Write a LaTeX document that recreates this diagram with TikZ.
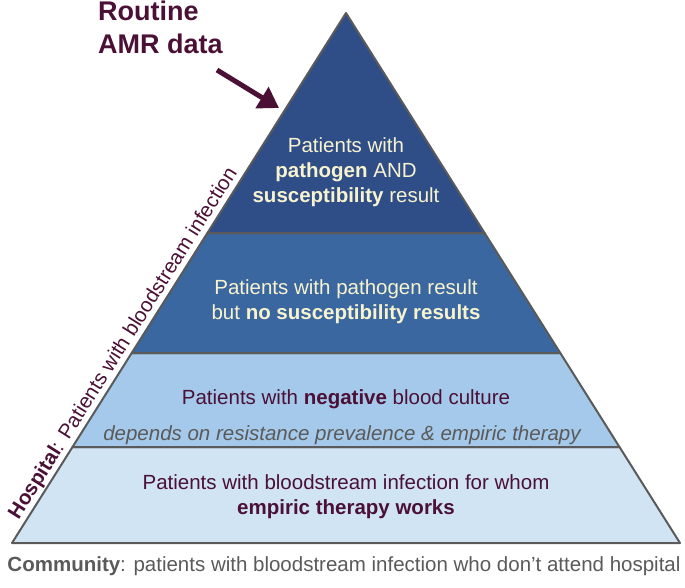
\documentclass[tikz,border=0pt]{standalone}
\usepackage{fontspec}
\setmainfont{Liberation Sans}
\usetikzlibrary{arrows.meta,positioning}

\definecolor{LayerTop}{HTML}{2F4E88}
\definecolor{LayerPath}{HTML}{3A67A0}
\definecolor{LayerNeg}{HTML}{A4C9EA}
\definecolor{LayerWork}{HTML}{D0E4F4}
\definecolor{Edge}{HTML}{5A5A5A}
\definecolor{Cream}{HTML}{F8F3CF}
\definecolor{Maroon}{HTML}{4B1035}
\definecolor{Note}{HTML}{5A5A5A}

\begin{document}
\begin{tikzpicture}[x=1pt,y=-1pt]
		\tikzstyle{Layer}	= [draw=Edge, line width=2pt, line join=round]
		\tikzstyle{Body}	= [align=center, inner sep=0pt, font=\fontsize{20.5}{25}\selectfont]
		\tikzstyle{OnDark}	= [Body, text=Cream]
		\tikzstyle{OnLight}	= [Body, text=Maroon]
		\tikzstyle{Pointer}	= [Maroon, line width=5pt, -{Triangle[length=20pt, width=24pt]}]

		\useasboundingbox (0,0) rectangle (685,587);

		% corners of the pyramid
		\coordinate (apex) at (346, 13);
		\coordinate (l1) at (207.4, 233);	\coordinate (r1) at (484.6, 233);
		\coordinate (l2) at (131.7, 353);	\coordinate (r2) at (560.3, 353);
		\coordinate (l3) at (72.5, 447);	\coordinate (r3) at (619.5, 447);
		\coordinate (l4) at (12, 543);		\coordinate (r4) at (680, 543);

		\filldraw [Layer, fill=LayerWork] (l3) -- (r3) -- (r4) -- (l4) -- cycle;
		\filldraw [Layer, fill=LayerNeg] (l2) -- (r2) -- (r3) -- (l3) -- cycle;
		\filldraw [Layer, fill=LayerPath] (l1) -- (r1) -- (r2) -- (l2) -- cycle;
		\filldraw [Layer, fill=LayerTop] (apex) -- (r1) -- (l1) -- cycle;

		\node (top) at (346, 172) [OnDark] {Patients with\\\textbf{pathogen} AND\\\textbf{susceptibility} result};
		\node (path) at (346, 302) [OnDark] {Patients with pathogen result\\but \textbf{no susceptibility results}};
		\node (neg) at (346, 399) [OnLight] {Patients with \textbf{negative} blood culture};
		\node (dep) at (342, 435) [Body, text=Note] {\itshape depends on resistance prevalence \& empiric therapy};
		\node (work) at (346, 497) [OnLight] {Patients with bloodstream infection for whom\\\textbf{empiric therapy works}};

		\node (side) at (133.6, 350) [Body, text=Maroon, rotate=57.8, anchor=south, inner sep=2pt]
			{\textbf{Hospital}: Patients with bloodstream infection};
		\node (comm) at (344, 566) [Body, text=Note] {\textbf{Community}: patients with bloodstream infection who don’t attend hospital};

		\node (amr) at (98, 1) [anchor=north west, align=left, inner sep=0pt, text=Maroon,
			font=\fontsize{27}{33}\selectfont\bfseries] {Routine\\AMR data};
		\coordinate (tip) at (279, 108);
		\draw [Pointer] (217, 70) -- (tip);
\end{tikzpicture}
\end{document}
